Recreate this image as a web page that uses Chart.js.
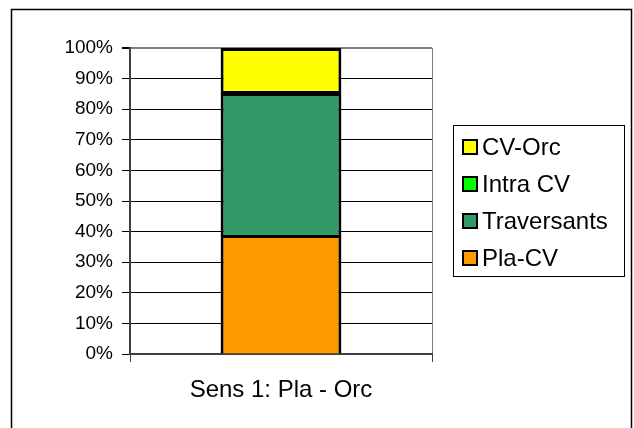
<!DOCTYPE html>
<html>
<head>
<meta charset="utf-8">
<script src="https://cdn.jsdelivr.net/npm/chart.js@4"></script>
<style>
html,body{margin:0;padding:0;background:#fff;}
#wrap{width:634px;height:428px;position:relative;}
</style>
</head>
<body>
<div id="wrap"><canvas id="c" width="634" height="428"></canvas></div>
<script>
const categories = ["Sens 1: Pla - Orc"];
const seriesNames = ["Pla-CV", "Traversants", "Intra CV", "CV-Orc"];
const plaCV = [38.56];
const traversants = [46.41];
const intraCV = [0.65];
const cvOrc = [14.38];
const tickValues = [0,10,20,30,40,50,60,70,80,90,100];

const colors = ["#FF9900", "#339966", "#00FF00", "#FFFF00"];
const FONT = "'Liberation Sans', Arial, sans-serif";

const frame = {
  id: 'frame',
  beforeDraw(chart) {
    const ctx = chart.ctx;
    ctx.save();
    ctx.fillStyle = '#fff';
    ctx.fillRect(0, 0, chart.width, chart.height);
    ctx.strokeStyle = '#000';
    ctx.lineWidth = 1.5;
    ctx.strokeRect(11.5, 9.5, 620, 440);
    ctx.restore();
  }
};

const legendBox = {
  id: 'legendBox',
  afterDraw(chart) {
    const ctx = chart.ctx;
    ctx.save();
    const x = 453.5, y = 125.5, w = 171, h = 151;
    ctx.fillStyle = '#fff';
    ctx.fillRect(x, y, w, h);
    ctx.strokeStyle = '#000';
    ctx.lineWidth = 1;
    ctx.strokeRect(x, y, w, h);
    const ds = chart.data.datasets.slice().reverse();
    ctx.font = '24px ' + FONT;
    ctx.textBaseline = 'middle';
    ds.forEach((d, i) => {
      const cy = 147 + i * 37;
      ctx.fillStyle = d.backgroundColor;
      ctx.fillRect(463, cy - 7, 14, 14);
      ctx.strokeStyle = '#000';
      ctx.lineWidth = 2;
      ctx.strokeRect(463, cy - 7, 14, 14);
      ctx.fillStyle = '#000';
      ctx.fillText(d.label, 482, cy + 1);
    });
    ctx.restore();
  }
};

const seriesData = [plaCV, traversants, intraCV, cvOrc];
const borders = [
  { left: 3, right: 3, top: 2, bottom: 0 },
  { left: 3, right: 3, top: 2, bottom: 1 },
  2,
  { left: 3, right: 3, top: 3, bottom: 1 }
];

new Chart(document.getElementById('c'), {
  type: 'bar',
  data: {
    labels: categories,
    datasets: seriesNames.map((n, i) => ({
      label: n,
      data: seriesData[i],
      backgroundColor: colors[i],
      borderColor: '#000',
      borderWidth: borders[i],
      inflateAmount: 0,
      borderSkipped: false,
      barPercentage: 0.4,
      categoryPercentage: 1
    }))
  },
  options: {
    responsive: false,
    animation: false,
    devicePixelRatio: 1,
    layout: { padding: { left: 0, top: 48, right: 202, bottom: 0 } },
    plugins: { legend: { display: false }, tooltip: { enabled: false } },
    scales: {
      x: {
        stacked: true,
        grid: {
          display: true,
          offset: true,
          color: (c) => c.index === 0 ? '#404040' : '#808080',
          tickColor: '#404040',
          tickLength: 8,
          lineWidth: 1
        },
        border: { display: true, color: '#404040', width: 2 },
        ticks: { color: '#000', font: { family: FONT, size: 24 }, padding: 14 },
        afterFit(s) { s.height = 74; }
      },
      y: {
        stacked: true,
        min: 0,
        max: 100,
        afterBuildTicks(s) { s.ticks = tickValues.map(v => ({ value: v })); },
        grid: {
          color: (c) => c.tick && c.tick.value === 100 ? '#808080' : '#000',
          tickColor: '#000',
          tickLength: 8,
          lineWidth: (c) => c.tick && c.tick.value === 100 ? 2 : 1
        },
        border: { display: true, color: '#404040', width: 2 },
        ticks: {
          color: '#000',
          font: { family: FONT, size: 19 },
          padding: 9,
          callback: (v) => v + '%'
        },
        afterFit(s) { s.width = 130; }
      }
    }
  },
  plugins: [frame, legendBox]
});
</script>
</body>
</html>
